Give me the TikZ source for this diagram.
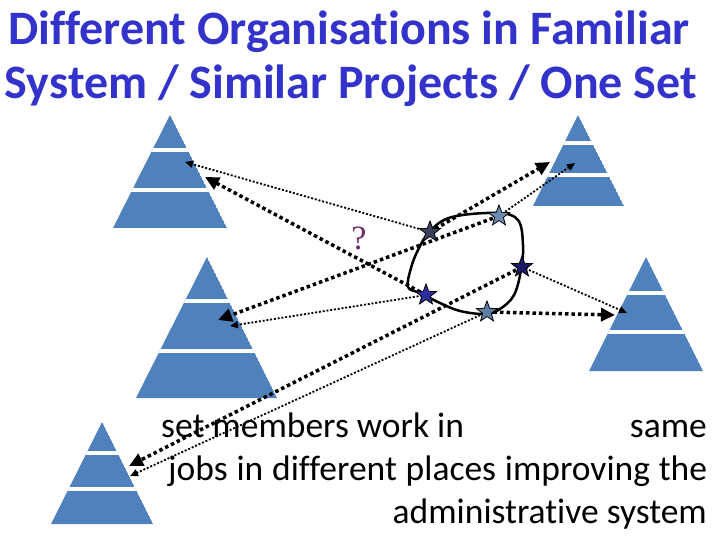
\documentclass[tikz,border=0pt]{standalone}
\usepackage{fontspec}
\setmainfont{Carlito}[Ligatures=NoCommon]
\newfontfamily\serifq{Liberation Serif}
\usetikzlibrary{arrows.meta,shapes.geometric}
\definecolor{pyrblue}{HTML}{4F81BD}
\definecolor{titleblue}{HTML}{3333CC}
\definecolor{qpurple}{HTML}{6B2A6B}
\definecolor{starA}{HTML}{3A3F5C}
\definecolor{starB}{HTML}{6B8BB0}
\definecolor{starC}{HTML}{1A1A66}
\definecolor{starD}{HTML}{2E2EA0}
\definecolor{starE}{HTML}{5E7FA3}
\newcommand\drawpyr[7]{%
  \begin{scope}
    \clip (#1,#2) -- (#4,#3) -- (#5,#3) -- cycle;
    \fill[pyrblue] (#1,#2) -- (#4,#3) -- (#5,#3) -- cycle;
    \draw[white,line width=3.5pt] (#4,#6) -- (#5,#6) (#4,#7) -- (#5,#7);
  \end{scope}}
\begin{document}
\begin{tikzpicture}[x=1pt,y=-1pt,
  titletext/.style={anchor=base,inner sep=0pt,text=titleblue,font=\fontsize{48}{56}\selectfont\bfseries},
  bodytext/.style={inner sep=0pt,font=\fontsize{35.5}{42}\selectfont},
  starnode/.style={star,star points=5,star point ratio=2.4,minimum size=22pt,inner sep=0pt,draw=black,line width=0.8pt},
  bigdot/.style={line width=3.5pt,dash pattern=on 3.5pt off 3pt,-{Triangle[length=14pt,width=13pt]}},
  smalldot/.style={line width=1.8pt,dash pattern=on 2pt off 1.8pt,-{Triangle[length=8pt,width=7pt]}},
  loopline/.style={line width=2.5pt,black}]
\useasboundingbox (0,0) rectangle (720,540);

% title
\node[titletext] (title1) at (349,45) {Different Organisations in Familiar};
\node[titletext] (title2) at (351,99) {System / Similar Projects / One Set};

% pyramids
\drawpyr{170}{115}{228}{113}{227}{150}{190}
\drawpyr{578}{115}{206}{533}{624}{143}{175}
\drawpyr{646}{257}{371}{589}{703}{293}{332}
\drawpyr{207}{257}{398}{136}{277}{301}{351}
\drawpyr{102}{422}{524}{51}{153}{453}{489}

% body text
\node[bodytext,anchor=base west] (line1a) at (161,437) {set members work in};
\node[bodytext,anchor=base east] (line1b) at (707,437) {same};
\node[bodytext,anchor=base west] (line2) at (168,480) {\makebox[539pt][s]{jobs in different places improving the}};
\node[bodytext,anchor=base east] (line3) at (707,523) {administrative system};

% question mark
\node[inner sep=0pt,text=qpurple,font=\serifq\fontsize{34}{40}\selectfont] (q) at (359,238) {?};

% star positions
\coordinate (c1) at (430,232);
\coordinate (c2) at (499,216);
\coordinate (c3) at (522,267);
\coordinate (c4) at (426,295);
\coordinate (c5) at (487,312);

% arrow targets
\coordinate (t1) at (185,162);
\coordinate (t2) at (205,177);
\coordinate (t3) at (550,162);
\coordinate (t4) at (575,163);
\coordinate (t5) at (218,320);
\coordinate (t6) at (230,326);
\coordinate (t7) at (615,315);
\coordinate (t8) at (627,313);
\coordinate (t9) at (129,466);
\coordinate (t10) at (130,476);

% connectors
\draw[smalldot] (c1) -- (t1);
\draw[bigdot] (c4) -- (t2);
\draw[bigdot] (c1) -- (t3);
\draw[smalldot] (c2) -- (t4);
\draw[bigdot] (c2) -- (t5);
\draw[smalldot] (c4) -- (t6);
\draw[bigdot] (c5) -- (t7);
\draw[smalldot] (c3) -- (t8);
\draw[bigdot] (c3) -- (t9);
\draw[smalldot] (c5) -- (t10);

% loop
\draw[loopline] plot[smooth cycle,tension=0.6] coordinates {(430,231) (452,217) (497,213) (518,220) (523,245) (521,270) (514,295) (500,309) (485,314) (460,311) (440,303) (420,293) (408,287) (411,268) (418,250)};

% stars
\node[starnode,fill=starA] (s1) at (c1) {};
\node[starnode,fill=starB] (s2) at (c2) {};
\node[starnode,fill=starC] (s3) at (c3) {};
\node[starnode,fill=starD] (s4) at (c4) {};
\node[starnode,fill=starE] (s5) at (c5) {};
\end{tikzpicture}
\end{document}
